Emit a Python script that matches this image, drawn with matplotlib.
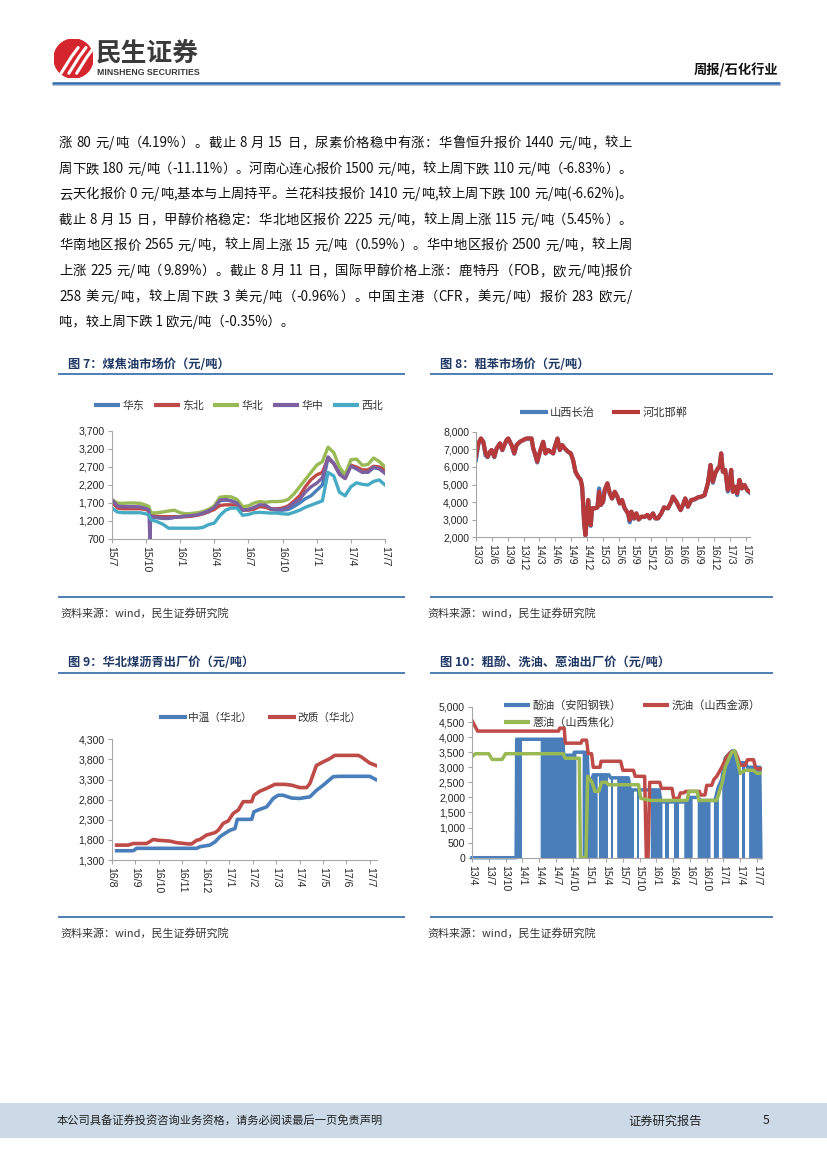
import re
import numpy as np
import matplotlib
matplotlib.use("Agg")
import matplotlib.pyplot as plt
from matplotlib.lines import Line2D
from matplotlib.patches import Rectangle, Circle
from matplotlib.font_manager import FontProperties

plt.rcParams['font.family'] = ['Noto Sans CJK SC', 'DejaVu Sans']

# ------------------------------------------------------------------ data
# Fig 7: coal tar market price, months since 2015-07
t7 = [0, 0.5, 1, 1.5, 2, 2.5, 3, 3.27, 3.35, 3.43, 3.5, 4, 4.5, 5, 5.5, 6, 6.5, 7, 7.5,
      8, 8.5, 9, 9.5, 10, 10.5, 11, 11.5, 12, 12.5, 13, 13.5, 14, 14.5, 15, 15.5, 16,
      16.5, 17, 17.5, 18, 18.5, 19, 19.5, 20, 20.5, 21, 21.5, 22, 22.5, 23, 23.5, 24]
huadong = [1800, 1620, 1580, 1580, 1580, 1580, 1540, 1500, 1420, 1360, 1320, 1290, 1270, 1270,
           1300, 1310, 1330, 1350, 1370, 1400, 1450, 1550, 1760, 1780, 1760, 1700, 1520, 1520,
           1560, 1620, 1600, 1520, 1500, 1500, 1520, 1600, 1700, 1820, 1900, 2050, 2200, 2950,
           2800, 2550, 2400, 2750, 2650, 2560, 2550, 2680, 2650, 2550]
dongbei = [1740, 1560, 1540, 1540, 1540, 1540, 1520, 1480, 1420, 1380, 1360, 1330, 1320, 1320,
           1320, 1320, 1320, 1330, 1360, 1400, 1460, 1520, 1630, 1650, 1650, 1640, 1500, 1500,
           1530, 1600, 1580, 1530, 1540, 1560, 1620, 1750, 1900, 2150, 2350, 2480, 2550, 2950,
           2800, 2500, 2380, 2750, 2700, 2620, 2620, 2720, 2700, 2620]
huabei = [1790, 1700, 1690, 1700, 1700, 1690, 1640, 1600, 1500, 1450, 1420, 1430, 1450, 1480,
          1500, 1430, 1400, 1410, 1430, 1460, 1520, 1620, 1860, 1880, 1870, 1800, 1600, 1620,
          1700, 1740, 1720, 1740, 1740, 1750, 1800, 1950, 2150, 2350, 2550, 2750, 2850, 3250,
          3100, 2700, 2480, 2900, 2920, 2750, 2770, 2950, 2850, 2700]
huazhong = [1800, 1620, 1600, 1600, 1600, 1590, 1550, 1500, 700, 1350, 1310, 1300, 1280, 1280,
            1300, 1320, 1340, 1350, 1370, 1420, 1480, 1570, 1780, 1800, 1760, 1700, 1500, 1520,
            1580, 1650, 1640, 1540, 1520, 1530, 1580, 1700, 1800, 2000, 2150, 2250, 2400, 2980,
            2800, 2500, 2380, 2720, 2650, 2550, 2560, 2700, 2650, 2520]
xibei = [1560, 1450, 1430, 1430, 1430, 1430, 1400, 1360, 1300, 1250, 1230, 1180, 1110, 1000,
         1000, 1000, 1000, 1000, 1000, 1020, 1100, 1140, 1350, 1500, 1560, 1560, 1360, 1380,
         1430, 1440, 1430, 1420, 1420, 1400, 1390, 1440, 1500, 1580, 1640, 1700, 1760, 2550,
         2450, 2000, 1900, 2150, 2260, 2220, 2200, 2300, 2340, 2200]
x7_labels = ['15/7', '15/10', '16/1', '16/4', '16/7', '16/10', '17/1', '17/4', '17/7']
y7_ticks = [700, 1200, 1700, 2200, 2700, 3200, 3700]

# Fig 8: crude benzene, months since 2013-03
t8 = [0, 0.44, 0.94, 1.38, 1.82, 2.2, 2.64, 2.96, 3.46, 3.9, 4.53, 4.97, 5.35, 5.79, 6.1, 6.73,
      7.23, 7.67, 8.3, 8.93, 9.56, 10.5, 10.82, 11.13, 11.57, 12.08, 12.7, 13.14, 13.65, 14.15,
      14.59, 14.9, 15.41, 15.85, 16.29, 16.79, 17.42, 17.92, 18.36, 18.8, 19.31, 19.81, 20.06,
      20.25, 20.44, 20.69, 20.94, 21.2, 21.45, 21.7, 21.95, 22.45, 22.96, 23.27, 23.58, 24.03,
      24.34, 24.84, 25.28, 25.72, 26.23, 26.73, 27.17, 27.61, 28.11, 28.74, 29.06, 29.37, 29.87,
      30.31, 30.75, 31.26, 31.89, 32.39, 32.83, 33.46, 33.9, 34.4, 35.03, 35.53, 36.29, 36.92,
      37.23, 37.86, 38.68, 39.12, 39.56, 40.06, 40.69, 41.32, 41.95, 42.58, 43.21, 43.84, 44.34,
      44.78, 45.22, 45.72, 46.04, 46.35, 46.67, 47.11, 47.61, 47.92, 48.24, 48.55, 48.99, 49.37,
      49.81, 50.25, 50.75, 51.26, 51.7]
hebei_handan = [6600, 7340, 7620, 7430, 6770, 6580, 6860, 6960, 6580, 7050, 7340, 6960, 7240, 7530,
                7620, 7240, 6770, 7240, 7430, 7530, 7620, 7620, 7050, 6770, 6300, 6860, 7430, 6770,
                6960, 6860, 6770, 7150, 7620, 6960, 7240, 7050, 6860, 6770, 6390, 5730, 5450, 5260,
                4880, 3930, 2800, 2130, 2980, 4120, 3170, 2700, 3650, 3650, 3700, 4590, 3840, 4030,
                4690, 5070, 4500, 4210, 4590, 4310, 3930, 4120, 3650, 3360, 2980, 3460, 3080, 3360,
                3020, 3170, 3170, 3270, 3080, 3360, 3080, 3080, 3360, 3700, 3650, 4030, 4310, 4030,
                3550, 3840, 4210, 3740, 4120, 4160, 4270, 4310, 4400, 5070, 6110, 5160, 5630, 5920,
                6010, 6770, 5730, 5830, 4690, 5070, 5830, 4590, 4880, 4500, 5260, 4780, 4980, 4690,
                4590]
shanxi_changzhi = [6400, 7300, 7600, 7400, 6650, 6550, 6850, 6950, 6550, 7050, 7330, 6950, 7230, 7520,
                   7600, 7230, 6750, 7230, 7420, 7520, 7600, 7600, 7050, 6760, 6250, 6850, 7420, 6760,
                   6950, 6850, 6760, 7140, 7600, 6950, 7230, 7040, 6850, 6760, 6380, 5720, 5440, 5250,
                   4870, 3920, 2790, 2100, 2970, 4100, 3150, 2650, 3640, 3640, 3700, 4780, 3830, 4020,
                   4680, 5060, 4490, 4200, 4580, 4300, 3920, 4110, 3640, 3340, 2850, 3450, 3050, 3350,
                   3000, 3160, 3160, 3260, 3070, 3350, 3070, 3070, 3350, 3690, 3640, 4000, 4300, 4020,
                   3540, 3830, 4200, 3730, 4110, 4150, 4260, 4300, 4390, 5060, 6100, 5100, 5620, 5910,
                   6000, 6760, 5720, 5820, 4600, 5060, 5820, 4580, 4870, 4400, 5250, 4770, 4970, 4680,
                   4550]
x8_labels = ['13/3', '13/6', '13/9', '13/12', '14/3', '14/6', '14/9', '14/12', '15/3', '15/6',
             '15/9', '15/12', '16/3', '16/6', '16/9', '16/12', '17/3', '17/6']
y8_ticks = [2000, 3000, 4000, 5000, 6000, 7000, 8000]

# Fig 9: coal pitch ex-factory price, months since 2016-08
zhongwen_t = [0.21, 0.92, 1.06, 3.62, 3.76, 4.18, 4.4, 4.61, 4.82, 5.04, 5.25, 5.35, 5.96, 6.06,
              6.31, 6.6, 6.88, 7.09, 7.3, 7.66, 8.01, 8.44, 8.72, 9.01, 9.43, 9.72, 10.99, 11.25]
zhongwen_v = [1530, 1530, 1590, 1590, 1630, 1670, 1750, 1880, 1960, 2040, 2080, 2310, 2310, 2500,
              2560, 2620, 2830, 2910, 2910, 2840, 2830, 2870, 3030, 3160, 3370, 3380, 3380, 3300]
gaizhi_t = [0.21, 0.71, 0.92, 1.49, 1.77, 1.99, 2.48, 2.77, 3.26, 3.4, 3.62, 3.76, 4.04, 4.4, 4.54,
            4.75, 4.96, 5.18, 5.39, 5.6, 5.96, 6.06, 6.31, 6.6, 6.95, 7.38, 7.66, 8.01, 8.3, 8.44,
            8.72, 9.01, 9.29, 9.5, 10.5, 10.64, 10.99, 11.25]
gaizhi_v = [1670, 1670, 1710, 1710, 1810, 1790, 1770, 1730, 1700, 1700, 1790, 1810, 1920, 1980, 2040,
            2210, 2270, 2460, 2540, 2750, 2750, 2910, 3010, 3080, 3180, 3180, 3160, 3100, 3100, 3200,
            3650, 3740, 3820, 3900, 3900, 3860, 3710, 3650]
x9_labels = ['16/8', '16/9', '16/10', '16/11', '16/12', '17/1', '17/2', '17/3', '17/4', '17/5',
             '17/6', '17/7']
y9_ticks = [1300, 1800, 2300, 2800, 3300, 3800, 4300]

# Fig 10: crude phenol / wash oil / anthracene oil, months since 2013-04
phenol_t = [0, 7.9, 8.0, 16.3, 16.4, 18.2, 18.3, 20.6, 20.8, 21.5, 21.7, 24.5, 24.8, 28.0, 28.3,
            33.5, 33.8, 38.5, 38.8, 40.5, 40.8, 43.5, 44.0, 44.7, 45.3, 46.0, 46.6, 47.2, 47.6,
            48.9, 49.3, 51.5, 51.7]
phenol_v = [0, 0, 3930, 3930, 3400, 3400, 3500, 3500, 2600, 2600, 2750, 2750, 2650, 2650, 2250,
            2250, 1850, 1850, 2000, 2000, 1900, 1900, 2300, 2600, 3300, 3450, 3550, 3400, 3150,
            3150, 3000, 3000, 0]
phenol_dense_start = [8.0, 12.2, 19.7, 22.8, 24.9, 25.9, 29.5, 31.9, 34.6, 36.1, 37.9, 40.3, 43.2,
                      44.7, 48.3, 49.5]
phenol_dense_end = [8.9, 18.6, 22.4, 24.4, 25.3, 28.9, 29.8, 34.0, 35.2, 37.0, 39.4, 42.6, 44.1,
                    47.7, 48.9, 51.7]
washoil_t = [0, 1.0, 15.5, 15.7, 16.5, 16.7, 19.5, 19.7, 20.5, 20.8, 21.4, 21.7, 22.9, 23.1, 26.6,
             27.0, 28.9, 29.2, 30.9, 31.2, 31.5, 31.8, 33.6, 33.9, 35.8, 36.1, 37.0, 37.3, 37.9,
             38.2, 40.7, 40.9, 41.7, 42.0, 42.9, 43.3, 43.8, 44.7, 45.6, 46.3, 47.1, 47.6, 48.0,
             48.9, 49.3, 50.4, 50.8, 51.8]
washoil_v = [4550, 4200, 4200, 4300, 4300, 3800, 3800, 3900, 3900, 3450, 3450, 3000, 3000, 3200,
             3200, 2900, 2900, 2700, 2700, 0, 0, 2500, 2500, 2300, 2300, 1970, 1970, 2150, 2150,
             2200, 2200, 2080, 2080, 2400, 2400, 2600, 2700, 3000, 3350, 3500, 3520, 3300, 3070,
             3070, 3250, 3250, 2950, 2950]
anthr_t = [0, 0.6, 3.0, 3.6, 5.4, 6.0, 16.3, 16.7, 19.2, 19.4, 20.4, 20.7, 21.5, 22.0, 22.7, 23.2,
           24.1, 24.4, 29.8, 30.2, 31.9, 38.5, 38.8, 40.3, 40.6, 43.8, 44.3, 44.8, 45.3, 46.0, 46.5,
           47.0, 47.5, 48.0, 48.9, 50.4, 51.0, 51.9]
anthr_v = [3350, 3450, 3450, 3260, 3260, 3450, 3450, 3300, 3300, 0, 0, 2700, 2500, 2200, 2200, 2500,
           2500, 2420, 2420, 1970, 1900, 1900, 2200, 2200, 1900, 1900, 2200, 2500, 3000, 3300, 3500,
           3550, 3200, 2800, 2900, 2900, 2800, 2800]
x10_labels = ['13/4', '13/7', '13/10', '14/1', '14/4', '14/7', '14/10', '15/1', '15/4', '15/7',
              '15/10', '16/1', '16/4', '16/7', '16/10', '17/1', '17/4', '17/7']
y10_ticks = [0, 500, 1000, 1500, 2000, 2500, 3000, 3500, 4000, 4500, 5000]

body_lines = [
    "涨 80 元/吨（4.19%）。截止 8 月 15 日，尿素价格稳中有涨：华鲁恒升报价 1440 元/吨，较上",
    "周下跌 180 元/吨（-11.11%）。河南心连心报价 1500 元/吨，较上周下跌 110 元/吨（-6.83%）。",
    "云天化报价 0 元/吨,基本与上周持平。兰花科技报价 1410 元/吨,较上周下跌 100 元/吨(-6.62%)。",
    "截止 8 月 15 日，甲醇价格稳定：华北地区报价 2225 元/吨，较上周上涨 115 元/吨（5.45%）。",
    "华南地区报价 2565 元/吨，较上周上涨 15 元/吨（0.59%）。华中地区报价 2500 元/吨，较上周",
    "上涨 225 元/吨（9.89%）。截止 8 月 11 日，国际甲醇价格上涨：鹿特丹（FOB，欧元/吨)报价",
    "258 美元/吨，较上周下跌 3 美元/吨（-0.96%）。中国主港（CFR，美元/吨）报价 283 欧元/",
    "吨，较上周下跌 1 欧元/吨（-0.35%）。",
]

# ------------------------------------------------------------------ layout helpers
W, H = 827, 1169
fig = plt.figure(figsize=(W / 100, H / 100), dpi=100)
CJK = ['Noto Sans CJK SC', 'DejaVu Sans']
NUM = ['Liberation Sans', 'DejaVu Sans']
AXC = '#A6A6A6'
TXT = '#262626'
BLUE, RED, GREEN, PURPLE, CYAN = '#4A7EBB', '#BE4B48', '#98B954', '#7D60A0', '#46AAC5'
NAVY = '#1F3864'
RULE = '#2E6AA8'
renderer = fig.canvas.get_renderer()


def ax_px(x0, y0, x1, y1):
    return fig.add_axes([x0 / W, 1 - y1 / H, (x1 - x0) / W, (y1 - y0) / H])


def ftext(x, y, s, **kw):
    kw.setdefault('va', 'center')
    kw.setdefault('family', CJK)
    fig.text(x / W, 1 - y / H, s, **kw)


def hline(x0, x1, y, color, lw):
    fig.add_artist(Line2D([x0 / W, x1 / W], [1 - y / H, 1 - y / H], color=color, lw=lw,
                          solid_capstyle='butt'))


def justified(x0, x1, y, s, size, color):
    """Spread the tokens of one line so that it fills x0..x1 (latin runs stay whole)."""
    prop = FontProperties(family=CJK, size=size)
    tokens = re.findall(r'[A-Za-z0-9.%\-]+| |.', s)
    widths = []
    for tk in tokens:
        if tk == ' ':
            widths.append(size * 0.35)
        else:
            widths.append(renderer.get_text_width_height_descent(tk, prop, ismath=False)[0])
    gap = (x1 - x0 - sum(widths)) / (len(tokens) - 1)
    x = x0
    for tk, w in zip(tokens, widths):
        if tk != ' ':
            ftext(x, y, tk, fontsize=size, color=color)
        x += w + gap


def style(ax, xticks, xlabels, yticks, xlim):
    ax.set_xlim(*xlim)
    ax.set_ylim(yticks[0], yticks[-1])
    for s in ('top', 'right'):
        ax.spines[s].set_visible(False)
    for s in ('left', 'bottom'):
        ax.spines[s].set_color(AXC)
        ax.spines[s].set_linewidth(0.8)
    ax.set_xticks(xticks)
    ax.set_xticklabels(xlabels, rotation=-90, fontsize=7.6, family=NUM, color=TXT)
    ax.set_yticks(yticks)
    ax.set_yticklabels([f'{v:,}' for v in yticks], fontsize=7.6, family=NUM, color=TXT)
    ax.tick_params(axis='both', length=3, width=0.8, color=AXC, pad=2)
    ax.patch.set_alpha(0)


def legend(ax, colors, labels, cx, cy, fs, ncol, hl, htp, cs, ls=0.5, lw=3.0):
    handles = [Line2D([], [], color=c, lw=lw, solid_capstyle='butt') for c in colors]
    leg = ax.legend(handles, labels, loc='center', bbox_to_anchor=(cx / W, 1 - cy / H),
                    bbox_transform=fig.transFigure, ncol=ncol, frameon=False,
                    prop={'family': CJK, 'size': fs}, handlelength=hl, handletextpad=htp,
                    columnspacing=cs, borderpad=0, borderaxespad=0, labelspacing=ls)
    for t in leg.get_texts():
        t.set_color('#333333')
    return leg


def chart_frame(x0, x1, title, ty, ly, by, sy, sx):
    ftext(x0 + 10, ty, title, fontsize=8.8, weight='bold', color=NAVY)
    hline(x0, x1, ly, RULE, 1.2)
    hline(x0, x1, by, RULE, 1.2)
    ftext(sx, sy, "资料来源：wind，民生证券研究院", fontsize=7.9, color='#333333')


# ------------------------------------------------------------------ header
logo = ax_px(54, 39, 93, 78)
logo.set_xlim(0, 1)
logo.set_ylim(0, 1)
logo.axis('off')
logo.add_patch(Circle((0.5, 0.5), 0.5, color='#D5262E'))
for dx in (0.0, 0.2, 0.4):
    logo.plot([0.18 + dx, 0.45 + dx, 0.62 + dx], [0.12, 0.55, 0.78], color='white', lw=2.2,
              solid_capstyle='round')
ftext(96, 53, "民生证券", fontsize=18.5, weight='bold', color='#3A3A3A')
ftext(97, 72.5, "MINSHENG SECURITIES", fontsize=6.3, weight='bold', color='#3A3A3A', family=NUM)
ftext(778, 70, "周报/石化行业", fontsize=9.5, weight='bold', color='#111111', ha='right')
hline(52, 780, 83, '#2F6AAE', 1.8)
hline(52, 780, 84.8, '#B8C4D4', 0.8)

# ------------------------------------------------------------------ body text
for i, s in enumerate(body_lines):
    y = 143 + 25.6 * i
    if i < len(body_lines) - 1:
        justified(59, 632, y, s, 9.6, '#111111')
    else:
        ftext(59, y, s, fontsize=9.6, color='#111111')

# ------------------------------------------------------------------ Fig 7
chart_frame(58, 405, "图 7：煤焦油市场价（元/吨）", 365, 374, 597, 613, 60)
ax7 = ax_px(111.7, 431, 385, 539)
names7 = ['华东', '东北', '华北', '华中', '西北']
cols7 = [BLUE, RED, GREEN, PURPLE, CYAN]
for ser, c in zip([huadong, dongbei, huabei, huazhong, xibei], cols7):
    ax7.plot(t7, ser, color=c, lw=2.4, solid_joinstyle='round')
style(ax7, np.arange(0, 25, 3), x7_labels, y7_ticks, (0, 24))
legend(ax7, cols7, names7, 238.5, 406, 7.8, 5, 2.4, 0.25, 0.85)

# ------------------------------------------------------------------ Fig 8
chart_frame(430, 773, "图 8：粗苯市场价（元/吨）", 365, 374, 597, 613, 427)
ax8 = ax_px(476, 431.7, 750, 537.3)
ax8.plot(t8, shanxi_changzhi, color=BLUE, lw=3.0, solid_joinstyle='round')
ax8.plot(t8, hebei_handan, color='#B7393A', lw=3.0, solid_joinstyle='round')
style(ax8, np.arange(0, 52, 3), x8_labels, y8_ticks, (0, 51.8))
legend(ax8, [BLUE, '#B7393A'], ['山西长治', '河北邯郸'], 603.5, 413, 8.1, 2, 2.5, 0.2, 1.5)

# ------------------------------------------------------------------ Fig 9
chart_frame(58, 405, "图 9：华北煤沥青出厂价（元/吨）", 663, 672.7, 916.7, 933, 60)
ax9 = ax_px(111.7, 739.3, 377, 860)
ax9.plot(zhongwen_t, zhongwen_v, color=BLUE, lw=2.6, solid_joinstyle='round')
ax9.plot(gaizhi_t, gaizhi_v, color=RED, lw=2.6, solid_joinstyle='round')
style(ax9, np.arange(0, 12, 1), x9_labels, y9_ticks, (0, 11.3))
legend(ax9, [BLUE, RED], ['中温（华北）', '改质（华北）'], 260, 718, 7.7, 2, 2.6, 0.15, 1.5)

# ------------------------------------------------------------------ Fig 10
chart_frame(430, 773, "图 10：粗酚、洗油、蒽油出厂价（元/吨）", 663, 672.7, 916.7, 933, 427)
ax10 = ax_px(472, 707, 762, 857.7)
ph_t = np.array(phenol_t)
ph_v = np.array(phenol_v)
for a, b in zip(phenol_dense_start, phenol_dense_end):
    inner = ph_t[(ph_t > a) & (ph_t < b)]
    tt = np.concatenate([[a], inner, [b]])
    ax10.fill_between(tt, 0, np.interp(tt, ph_t, ph_v), color=BLUE, lw=0)
ax10.plot(ph_t, ph_v, color=BLUE, lw=2.5, clip_on=False)
ax10.plot(washoil_t, washoil_v, color=RED, lw=2.5)
ax10.plot(anthr_t, anthr_v, color=GREEN, lw=2.5)
style(ax10, np.arange(0, 52, 3), x10_labels, y10_ticks, (0, 51.9))
legend(ax10, [BLUE, GREEN, RED], ['酚油（安阳钢铁）', '蒽油（山西焦化）', '洗油（山西金源）'],
       632, 714, 8.0, 2, 2.4, 0.2, 1.9, ls=0.55)

# ------------------------------------------------------------------ footer
fig.add_artist(Rectangle((0, 1 - 1138 / H), 1, 35 / H, transform=fig.transFigure,
                         color='#CCDAE8', lw=0))
ftext(57, 1121, "本公司具备证券投资咨询业务资格，请务必阅读最后一页免责声明", fontsize=8.1, color='#222222')
ftext(628, 1121, "证券研究报告", fontsize=8.8, color='#222222')
ftext(766, 1121, "5", fontsize=8.8, color='#222222', ha='center')

fig.savefig('out.png', dpi=100)
